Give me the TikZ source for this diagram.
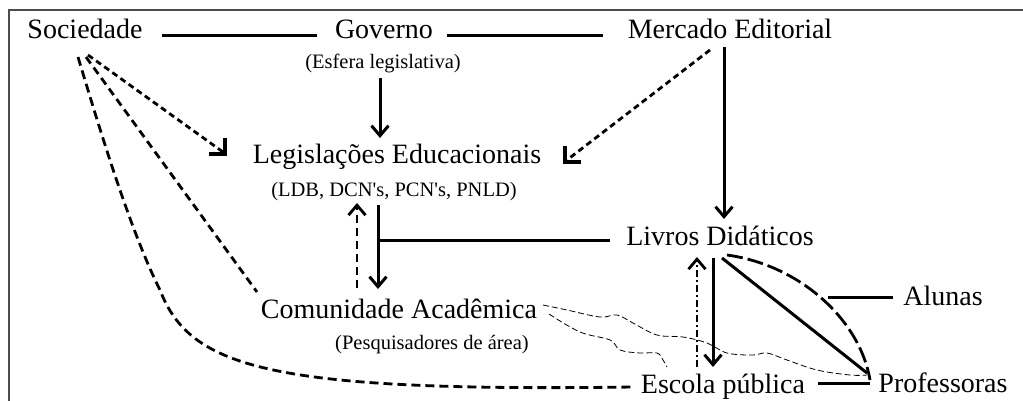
\documentclass[tikz,border=0pt]{standalone}
\usepackage{fontspec}
\setmainfont{Liberation Serif}
\usetikzlibrary{arrows.meta,calc}
\begin{document}
\begin{tikzpicture}[x=1pt,y=-1pt,
  lbl/.style={inner sep=0pt, font=\fontsize{28}{30}\selectfont, anchor=base},
  sub/.style={inner sep=0pt, font=\fontsize{20.5}{22}\selectfont, anchor=base},
  ln/.style={line width=3pt},
  tip/.style={-{Straight Barb[length=10pt,width=17pt]}},
  ar/.style={ln, tip},
  dsh/.style={line width=2.8pt, dash pattern=on 8pt off 5pt},
  sdsh/.style={line width=2.8pt, dash pattern=on 6pt off 4pt},
  corner/.style={sdsh, -{Straight Barb[angle=90:16pt, line width=3.6pt]}},
  thindash/.style={line width=0.8pt, dash pattern=on 6pt off 3pt},
  frame/.style={draw=black!70, line width=1.6pt}]
\useasboundingbox (0,0) rectangle (1023,400);
\fill[white] (0,0) rectangle (1023,400);
\draw[frame] (9,402) -- (9,10) -- (1025,10);

% nodes
\node[lbl] (soc) at (85,38) {Sociedade};
\node[lbl] (gov) at (384,38) {Governo};
\node[sub] (esf) at (383,68) {(Esfera legislativa)};
\node[lbl] (mer) at (730,38) {Mercado Editorial};
\node[lbl] (leg) at (397,163) {Legislações Educacionais};
\node[sub] (ldb) at (394,196) {(LDB, DCN\textquotesingle s, PCN\textquotesingle s, PNLD)};
\node[lbl] (com) at (399,318) {Comunidade Acadêmica};
\node[sub] (pes) at (432,349) {(Pesquisadores de área)};
\node[lbl] (liv) at (720,245) {Livros Didáticos};
\node[lbl] (alu) at (943,305) {Alunas};
\node[lbl] (esc) at (723,393) {Escola pública};
\node[lbl] (pro) at (943,392) {Professoras};

% top row
\draw[ln] ($(soc.base)+(77,-3)$) -- ($(gov.base)+(-67,-3)$);
\draw[ln] ($(gov.base)+(63,-3)$) -- ($(mer.base)+(-127,-3)$);
% governo -> legislacoes
\draw[ar] ($(esf.base)+(-3,10)$) -- ($(leg.base)+(-17,-25)$);
% mercado -> livros
\draw[ar] ($(mer.base)+(-6,9)$) -- ($(liv.base)+(4,-26)$);
% mercado -> legislacoes (dashed, corner tip)
\draw[corner] ($(mer.base)+(-20,12)$) -- ($(leg.base)+(170,-3)$) -- ($(leg.base)+(166,1)$);
% sociedade -> legislacoes (dashed, corner tip)
\draw[corner] ($(soc.base)+(3,17)$) -- ($(leg.base)+(-174,-11)$) -- ($(leg.base)+(-170,-7)$);
% sociedade -- comunidade
\draw[dsh] ($(soc.base)+(1,19)$) -- ($(com.base)+(-142,-26)$);
% sociedade -- escola (curve)
\draw[dsh, dash pattern=on 9pt off 5pt] ($(soc.base)+(-7,19)$) .. controls (100,130) and (130,230) .. (160,290)
  .. controls (190,368) and (270,392) .. ($(esc.base)+(-90,-6)$);
% legislacoes <-> comunidade
\draw[dsh, tip] ($(com.base)+(-42,-30)$) -- ($(ldb.base)+(-37,7)$);
\draw[ar] ($(ldb.base)+(-16,9)$) -- ($(com.base)+(-21,-29)$);
% branch to livros
\draw[ln] ($(ldb.base)+(-16,44)$) -- ($(liv.base)+(-110,-5)$);
% livros <-> escola
\draw[ar] ($(liv.base)+(-7,13)$) -- ($(esc.base)+(-10,-26)$);
\draw[line width=2.8pt, dash pattern=on 7pt off 3pt on 2pt off 3pt, tip] ($(esc.base)+(-26,-26)$) -- ($(liv.base)+(-23,12)$);
% livros -- professoras
\draw[ln] ($(liv.base)+(2,13)$) -- ($(pro.base)+(-76,-19)$);
\draw[line width=2.8pt, dash pattern=on 16pt off 5pt] ($(liv.base)+(7,10)$) .. controls (800,265) and (860,320) .. ($(pro.base)+(-73,-12)$);
\draw[ln] ($(alu.base)+(-115,-8)$) -- ($(alu.base)+(-50,-8)$);
% escola -- professoras
\draw[ln] ($(esc.base)+(95,-10)$) -- ($(pro.base)+(-73,-9)$);
% comunidade ~ professoras / escola (thin wavy)
\draw[thindash] plot[smooth, tension=0.6] coordinates {($(com.base)+(144,-13)$) (567,310) (600,317) (617,315) (633,323) (657,335) (683,337) (707,343) (727,353) (753,355) (767,353) (787,360) (817,370) (850,375) ($(pro.base)+(-76,-17)$)};
\draw[thindash] plot[smooth, tension=0.6] coordinates {($(com.base)+(150,-4)$) (580,332) (610,340) (620,350) (640,353) (657,353) (663,360) ($(esc.base)+(-56,-26)$)};
\end{tikzpicture}
\end{document}
